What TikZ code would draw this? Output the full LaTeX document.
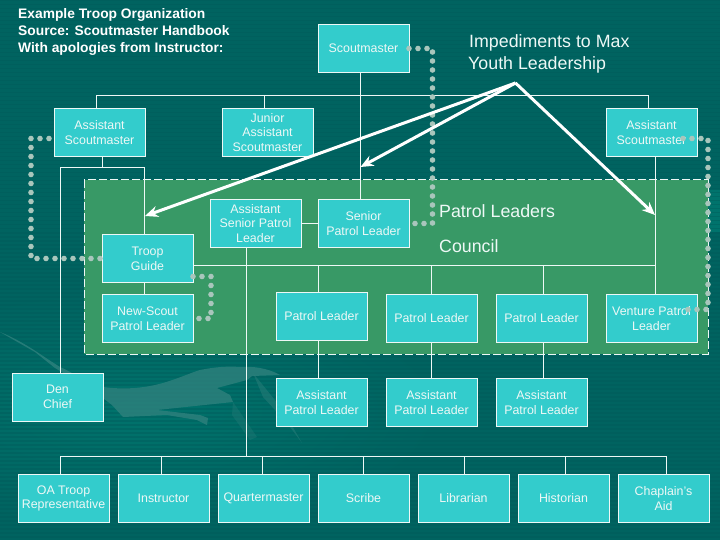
\documentclass[tikz,border=0pt]{standalone}
\usepackage{fontspec}
\setmainfont{Liberation Sans}
\usetikzlibrary{arrows.meta}
\definecolor{bgdark}{HTML}{006360}
\definecolor{bgband}{HTML}{00736C}
\definecolor{stripe}{HTML}{005A5A}
\definecolor{swoosh}{HTML}{2F817D}
\definecolor{councilgreen}{HTML}{389966}
\definecolor{boxfill}{HTML}{33CCCC}
\definecolor{dotgray}{HTML}{A9C6BC}
\definecolor{linewhite}{HTML}{EEF8F6}
\tikzset{
  orgbox/.style={draw=linewhite,fill=boxfill,line width=1pt,minimum width=91pt,minimum height=48pt,
    inner sep=0pt,outer sep=0pt,anchor=north west,align=center,text=linewhite,font=\fontsize{12.4}{14.6}\selectfont},
  wire/.style={draw=linewhite,line width=1pt},
  dotline/.style={draw=dotgray,line width=5.6pt,line cap=round,dash pattern=on 0pt off 9pt},
  bigarrow/.style={draw=white,line width=3pt,-{Stealth[length=13pt,width=11pt]}},
  heading/.style={anchor=base west,inner sep=0pt,text=linewhite,font=\fontsize{17.8}{22}\selectfont},
  titletext/.style={anchor=north west,inner sep=0pt,align=left,text=white,font=\bfseries\fontsize{13.8}{17}\selectfont}
}
\newcommand{\bx}[4]{\node[orgbox] (#1) at (#2,#3) {#4};}
\begin{document}
\begin{tikzpicture}[x=1pt,y=-1pt]
\useasboundingbox (0,0) rectangle (720,540);
% background
\fill[bgdark] (0,0) rectangle (720,540);
\shade[inner color=bgband,outer color=bgdark] (140,410) ellipse (300 and 120);
\fill[bgband] (705,190) rectangle (720,232);
\foreach \yy in {0,4,...,540} {\fill[stripe,opacity=.4] (0,\yy) rectangle (720,\yy+1.5);}
% silhouette
\fill[swoosh,opacity=.8] (0,332) .. controls (25,342) and (45,358) .. (60,367)
  .. controls (72,372) and (85,382) .. (103,387)
  .. controls (125,390) and (145,388) .. (163,383)
  .. controls (180,378) and (190,373) .. (200,370)
  .. controls (215,367) and (228,366) .. (240,367)
  .. controls (252,366) and (268,368) .. (280,375)
  -- (252,376) -- (247,380) -- (217,388) -- (230,395) -- (233,402)
  -- (157,410) -- (200,415) -- (208,418) -- (207,425) -- (197,420)
  -- (167,415) -- (123,417) -- (112,405) -- (103,398)
  -- (72,378) -- (55,368) -- (35,352) -- cycle;
\fill[swoosh,opacity=.45] (253,373) -- (283,410) -- (302,443) -- (287,423) -- (263,397) -- cycle;
\fill[swoosh,opacity=.3] (233,402) -- (257,437) -- (250,440) -- (232,415) -- cycle;
% council area
\fill[councilgreen] (84,180) rectangle (708,354);
\draw[linewhite,line width=1pt,dash pattern=on 8pt off 3pt] (84,180) rectangle (708,354);
% junctions
\coordinate (topbus) at (360,96);
\coordinate (asbus) at (102,168);
\coordinate (councilbus) at (318,265);
\coordinate (lowbus) at (246,456);
% boxes
\bx{sm}{318}{24.5}{Scoutmaster}
\bx{asl}{54}{108.5}{Assistant\\Scoutmaster}
\bx{jasm}{222}{108.5}{Junior\\Assistant\\Scoutmaster}
\bx{asr}{606}{108.5}{Assistant\\Scoutmaster}
\bx{tg}{102}{234.5}{Troop\\Guide}
\bx{aspl}{210}{199.5}{Assistant\\Senior Patrol\\Leader}
\bx{spl}{318}{199.5}{Senior\\Patrol Leader}
\bx{nspl}{102}{294.5}{New-Scout\\Patrol Leader}
\bx{plA}{276}{292.5}{Patrol Leader}
\bx{plB}{386}{294.5}{Patrol Leader}
\bx{plC}{496}{294.5}{Patrol Leader}
\bx{vpl}{606}{294.5}{Venture Patrol\\Leader}
\bx{den}{12}{373}{Den\\Chief}
\bx{aplA}{276}{378.5}{Assistant\\Patrol Leader}
\bx{aplB}{386}{378.5}{Assistant\\Patrol Leader}
\bx{aplC}{496}{378.5}{Assistant\\Patrol Leader}
\bx{oa}{18}{474.5}{OA Troop\\Representative}
\bx{ins}{118}{474.5}{Instructor}
\bx{qm}{218}{474.5}{Quartermaster}
\bx{scr}{318}{474.5}{Scribe}
\bx{lib}{418}{474.5}{Librarian}
\bx{his}{518}{474.5}{Historian}
\bx{chap}{618}{474.5}{Chaplain's\\Aid}
% connectors
\begin{scope}[wire]
\draw ([xshift=-3.5pt]sm.south) -- ([xshift=-3.5pt]spl.north);
\draw ([xshift=-3.5pt]asl.north) |- (topbus);
\draw ([xshift=-3.5pt]jasm.north) |- (topbus);
\draw ([xshift=-3.5pt]asr.north) |- (topbus);
\draw ([xshift=2.5pt]asl.south) -- (asbus);
\draw ([xshift=-3.5pt]tg.north) |- (asbus);
\draw ([xshift=2.5pt]den.north) |- (asbus);
\draw ([xshift=-3.5pt]tg.south) -- ([xshift=-3.5pt]nspl.north);
\draw (aspl.east) -- (spl.west);
\draw (tg.east |- councilbus) -- (councilbus);
\draw ([xshift=3.5pt]asr.south) -- ([xshift=3.5pt]vpl.north);
\draw ([xshift=3.5pt]vpl.north) |- (councilbus);
\draw ([xshift=-3.5pt]plA.north) |- (councilbus);
\draw ([xshift=-0.5pt]plB.north) |- (councilbus);
\draw ([xshift=1.5pt]plC.north) |- (councilbus);
\draw ([xshift=-3.5pt]plA.south) -- ([xshift=-3.5pt]aplA.north);
\draw ([xshift=-0.5pt]plB.south) -- ([xshift=-0.5pt]aplB.north);
\draw ([xshift=1.5pt]plC.south) -- ([xshift=1.5pt]aplC.north);
\draw ([xshift=-9.5pt]aspl.south) -- (lowbus);
\draw ([xshift=-3.5pt]oa.north) |- (lowbus);
\draw ([xshift=-2.5pt]ins.north) |- (lowbus);
\draw ([xshift=-1.5pt]qm.north) |- (lowbus);
\draw ([xshift=-0.5pt]scr.north) |- (lowbus);
\draw ([xshift=.5pt]lib.north) |- (lowbus);
\draw ([xshift=1.5pt]his.north) |- (lowbus);
\draw ([xshift=2.5pt]chap.north) |- (lowbus);
\end{scope}
% dotted relations
\draw[dotline] (sm.east) -- ++(23.5,0) -- ([xshift=23.5pt]spl.east) -- (spl.east);
\draw[dotline] ([xshift=-5pt,yshift=-6pt]asl.west) -- ++(-18,0) -- ++(0,120) -- ++(72,0);
\draw[dotline] ([yshift=-18pt]tg.east) -- ++(18,0) -- ++(0,42) -- (nspl.east);
\draw[dotline] ([xshift=-14pt,yshift=-6pt]asr.east) -- ++(25,0) -- ++(0,171) -- ++(-25,0);
% impediment arrows
\coordinate (apex) at (515.5,83);
\coordinate (tipL) at (145,216);
\coordinate (tipM) at (360.5,167);
\coordinate (tipR) at (655,215);
\draw[bigarrow] (apex) -- (tipL);
\draw[bigarrow] (apex) -- (tipM);
\draw[bigarrow] (apex) -- (tipR);
% texts
\node[titletext] (title) at (18,8) {Example Troop Organization\\Source: Scoutmaster Handbook\\With apologies from Instructor:};
\node[heading] (impA) at (469,48) {Impediments to Max};
\node[heading] (impB) at (468,70) {Youth Leadership};
\node[heading] (plc) at (439,218) {Patrol Leaders};
\node[heading] (cou) at (439,252) {Council};
\end{tikzpicture}
\end{document}
